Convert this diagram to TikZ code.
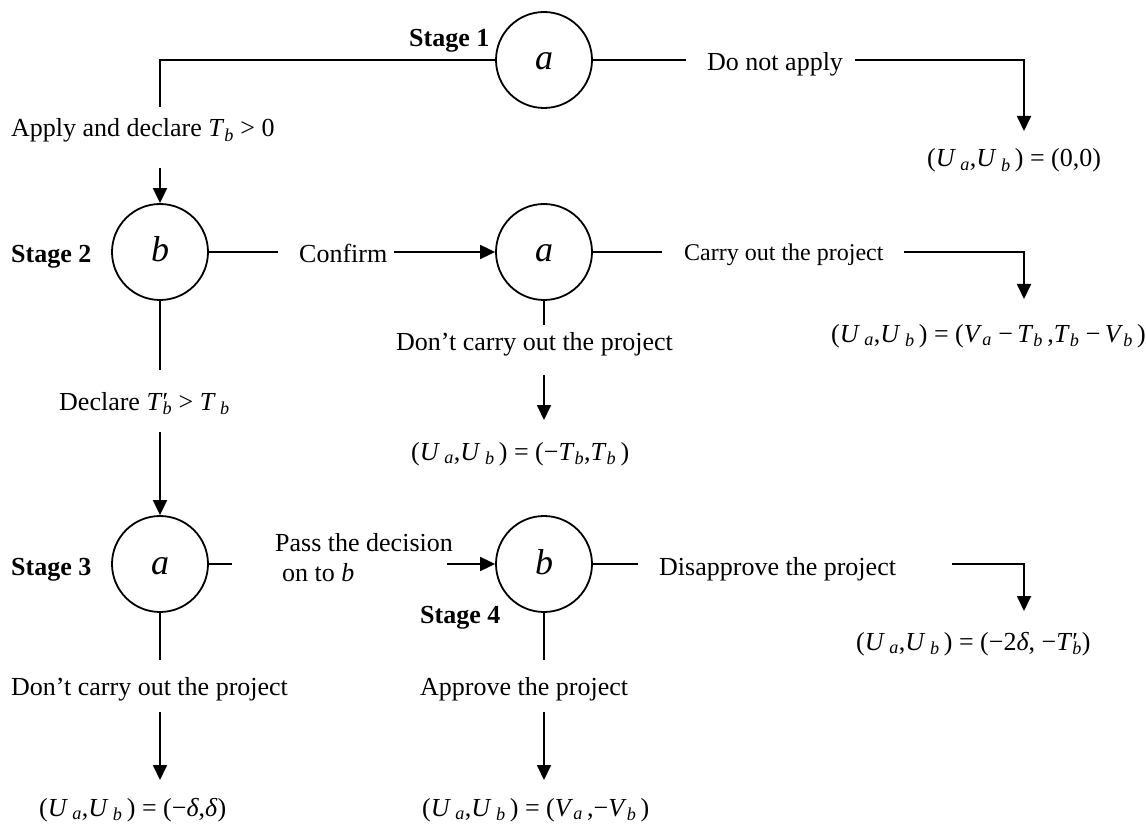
\documentclass[tikz,border=0pt]{standalone}
\usepackage{fontspec}
\setmainfont{Liberation Serif}
\usetikzlibrary{arrows.meta}
\newcommand{\Ssb}[1]{\textsubscript{\textit{#1}}}
\newcommand{\Uab}{(\textit{U}\,\Ssb{a},\textit{U}\,\Ssb{b}\,)}
\newcommand{\Tb}{\textit{T}\Ssb{b}}
\newcommand{\Tpb}{\textit{T}\rlap{′}\Ssb{b}}
\newcommand{\Va}{\textit{V}\Ssb{a}}
\newcommand{\Vb}{\textit{V}\Ssb{b}}
\newcommand{\dl}{\textit{δ}}
\newcommand{\pl}[1]{\raisebox{-10pt}[0pt][0pt]{#1}}
\begin{document}
\begin{tikzpicture}[x=1pt,y=-1pt,
 every node/.style={inner sep=0pt, font=\fontsize{26}{30}\selectfont},
 lbl/.style={anchor=base west},
 small/.style={anchor=base west, font=\fontsize{24}{28}\selectfont},
 stg/.style={anchor=base west, font=\fontsize{26}{30}\selectfont\bfseries},
 player/.style={circle, draw, line width=1.8pt, minimum size=96pt, font=\fontsize{36}{40}\selectfont\itshape},
 edge/.style={line width=1.8pt},
 arr/.style={line width=1.8pt, -{Triangle[length=15pt,width=14pt]}},
 ]
\useasboundingbox (0,0) rectangle (1146,826);

% players
\node[player] (a1) at (544,60) {\pl{a}};
\node[player] (b2) at (160,252) {\pl{b}};
\node[player] (a2) at (544,252) {\pl{a}};
\node[player] (a3) at (160,564) {\pl{a}};
\node[player] (b4) at (544,564) {\pl{b}};

% stage labels
\node[stg] (s1) at (409,47) {Stage 1};
\node[stg] (s2) at (11,263) {Stage 2};
\node[stg] (s3) at (11,575) {Stage 3};
\node[stg] (s4) at (420,623) {Stage 4};

% action labels
\node[lbl] (apply) at (11,137) {Apply and declare \Tb{} > 0};
\node[lbl] (dna) at (707,71) {Do not apply};
\node[lbl] (conf) at (299,263) {Confirm};
\node[small] (carry) at (684,261) {Carry out the project};
\node[lbl] (dc1) at (396,351) {Don’t carry out the project};
\node[lbl] (decl) at (59,410) {Declare \Tpb{} > \textit{T}\,\Ssb{b}};
\node[lbl] (pass1) at (275,551) {Pass the decision};
\node[lbl] (pass2) at (282,581) {on to \textit{b}};
\node[lbl] (disap) at (659,575) {Disapprove the project};
\node[lbl] (dc2) at (11,695) {Don’t carry out the project};
\node[lbl] (appr) at (420,695) {Approve the project};

% payoffs
\node[lbl] (f1) at (927,167) {\Uab{} = (0,0)};
\node[lbl] (f2) at (831,342) {\Uab{} = (\Va\ −\,\Tb\,,\Tb\ −\,\Vb\,)};
\node[lbl] (f3) at (411,460) {\Uab{} = (−\Tb,\Tb\,)};
\node[lbl] (f4) at (39,816) {\Uab{} = (−\dl,\dl)};
\node[lbl] (f5) at (422,816) {\Uab{} = (\Va\,,−\Vb\,)};
\node[lbl] (f6) at (856,650) {\Uab{} = (−2\dl, −\Tpb)};

% free ends of connectors
\coordinate (p1) at (160,107);
\coordinate (p2) at (160,168);
\coordinate (p3) at (686,60);
\coordinate (p4) at (855,60);
\coordinate (p5) at (1024,131);
\coordinate (p6) at (278,252);
\coordinate (p7) at (394,252);
\coordinate (p8) at (662,252);
\coordinate (p9) at (904,252);
\coordinate (p10) at (1024,299);
\coordinate (p11) at (544,325);
\coordinate (p12) at (544,375);
\coordinate (p13) at (544,420);
\coordinate (p14) at (160,370);
\coordinate (p15) at (160,432);
\coordinate (p16) at (232,564);
\coordinate (p17) at (447,564);
\coordinate (p18) at (638,564);
\coordinate (p19) at (952,564);
\coordinate (p20) at (1024,611);
\coordinate (p21) at (160,660);
\coordinate (p22) at (160,712);
\coordinate (p23) at (160,780);
\coordinate (p24) at (544,660);
\coordinate (p25) at (544,712);
\coordinate (p26) at (544,780);

% connectors
\draw[edge] (a1.west) -| (p1);
\draw[arr] (p2) -- (b2.north);
\draw[edge] (a1.east) -- (p3);
\draw[arr] (p4) -| (p5);
\draw[edge] (b2.east) -- (p6);
\draw[arr] (p7) -- (a2.west);
\draw[edge] (a2.east) -- (p8);
\draw[arr] (p9) -| (p10);
\draw[edge] (a2.south) -- (p11);
\draw[arr] (p12) -- (p13);
\draw[edge] (b2.south) -- (p14);
\draw[arr] (p15) -- (a3.north);
\draw[edge] (a3.east) -- (p16);
\draw[arr] (p17) -- (b4.west);
\draw[edge] (b4.east) -- (p18);
\draw[arr] (p19) -| (p20);
\draw[edge] (a3.south) -- (p21);
\draw[arr] (p22) -- (p23);
\draw[edge] (b4.south) -- (p24);
\draw[arr] (p25) -- (p26);
\end{tikzpicture}
\end{document}
